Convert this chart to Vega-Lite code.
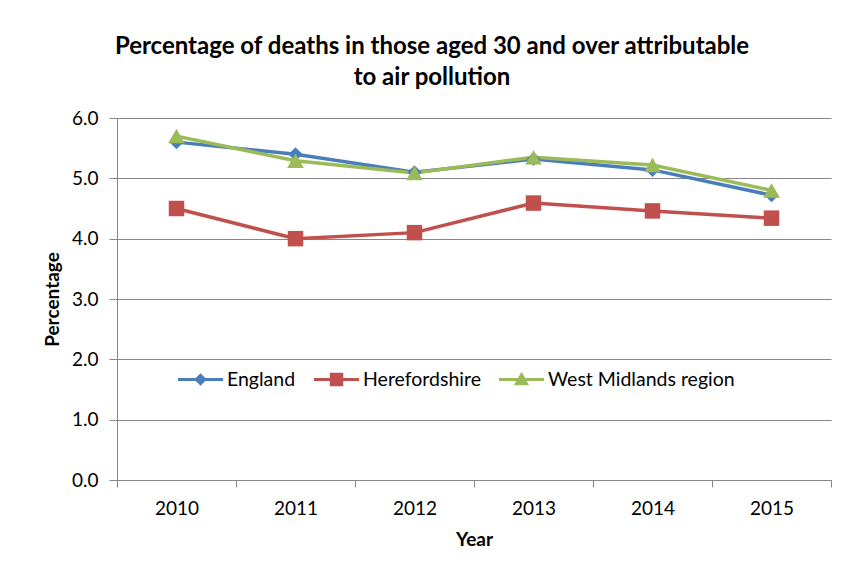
{
  "$schema": "https://vega.github.io/schema/vega-lite/v6.json",
  "width": 714,
  "height": 362,
  "autosize": {"type": "none"},
  "padding": {"left": 117, "top": 118, "right": 14, "bottom": 89},
  "background": "white",
  "config": {"font": "Lato", "view": {"stroke": null}},
  "title": {
    "text": ["Percentage of deaths in those aged 30 and over attributable", "to air pollution"],
    "fontSize": 24,
    "fontWeight": "bold",
    "font": "Lato",
    "color": "#000000",
    "anchor": "middle",
    "dx": -42,
    "lineHeight": 31,
    "offset": 19
  },
  "data": {
    "values": [
      {"year": "2010", "series": "England", "value": 5.6},
      {"year": "2011", "series": "England", "value": 5.4},
      {"year": "2012", "series": "England", "value": 5.1},
      {"year": "2013", "series": "England", "value": 5.32},
      {"year": "2014", "series": "England", "value": 5.14},
      {"year": "2015", "series": "England", "value": 4.72},
      {"year": "2010", "series": "Herefordshire", "value": 4.5},
      {"year": "2011", "series": "Herefordshire", "value": 4.0},
      {"year": "2012", "series": "Herefordshire", "value": 4.1},
      {"year": "2013", "series": "Herefordshire", "value": 4.59},
      {"year": "2014", "series": "Herefordshire", "value": 4.46},
      {"year": "2015", "series": "Herefordshire", "value": 4.34},
      {"year": "2010", "series": "West Midlands region", "value": 5.7},
      {"year": "2011", "series": "West Midlands region", "value": 5.29},
      {"year": "2012", "series": "West Midlands region", "value": 5.09},
      {"year": "2013", "series": "West Midlands region", "value": 5.35},
      {"year": "2014", "series": "West Midlands region", "value": 5.22},
      {"year": "2015", "series": "West Midlands region", "value": 4.8}
    ]
  },
  "encoding": {
    "x": {
      "field": "year",
      "type": "ordinal",
      "scale": {"type": "band", "paddingInner": 0, "paddingOuter": 0},
      "bandPosition": 0.5,
      "axis": {
        "title": "Year",
        "titleFontSize": 19,
        "titleFontWeight": "bold",
        "titleColor": "#000000",
        "titlePadding": 12,
        "labelAngle": 0,
        "labelFontSize": 19,
        "labelColor": "#000000",
        "labelPadding": 12,
        "tickBand": "extent",
        "tickSize": 7,
        "tickColor": "#868686",
        "domainColor": "#868686",
        "grid": false
      }
    },
    "y": {
      "field": "value",
      "type": "quantitative",
      "scale": {"domain": [0, 6]},
      "axis": {
        "title": "Percentage",
        "titleFontSize": 19,
        "titleFontWeight": "bold",
        "titleColor": "#000000",
        "titlePadding": 9,
        "values": [0, 1, 2, 3, 4, 5, 6],
        "format": ".1f",
        "labelFontSize": 19,
        "labelColor": "#000000",
        "labelPadding": 11,
        "tickSize": 8,
        "tickColor": "#868686",
        "domainColor": "#868686",
        "gridColor": "#868686",
        "gridOpacity": 1,
        "grid": true
      }
    },
    "color": {
      "field": "series",
      "type": "nominal",
      "scale": {
        "domain": ["England", "Herefordshire", "West Midlands region"],
        "range": ["#4A7EBB", "#C0504D", "#9BBB59"]
      },
      "legend": {
        "orient": "none",
        "legendX": 61,
        "legendY": 239,
        "direction": "horizontal",
        "title": null,
        "labelFontSize": 19.5,
        "labelColor": "#000000",
        "labelLimit": 0,
        "symbolSize": 2025,
        "symbolType": "M-1,-0.065L1,-0.065L1,0.065L-1,0.065Z",
        "labelOffset": 4,
        "columnPadding": 18,
        "encode": {
          "symbols": {
            "update": {
              "shape": {"signal": "datum.value === 'England' ? 'M-1,-0.07L1,-0.07L1,0.07L-1,0.07Z M0,-0.28L0.28,0L0,0.28L-0.28,0Z' : datum.value === 'Herefordshire' ? 'M-1,-0.07L1,-0.07L1,0.07L-1,0.07Z M-0.3,-0.3L0.3,-0.3L0.3,0.3L-0.3,0.3Z' : 'M-1,-0.07L1,-0.07L1,0.07L-1,0.07Z M0,-0.34L0.34,0.26L-0.34,0.26Z'"},
              "size": {"value": 2025},
              "fill": {"scale": "color", "field": "value"},
              "fillOpacity": {"value": 1},
              "opacity": {"value": 1},
              "strokeWidth": {"value": 0}
            }
          }
        }
      }
    }
  },
  "layer": [
    {"mark": {"type": "line", "strokeWidth": 3.5}},
    {
      "transform": [{"filter": "datum.series === 'England'"}],
      "mark": {"type": "point", "filled": true, "opacity": 1, "shape": "diamond", "size": 200}
    },
    {
      "transform": [{"filter": "datum.series === 'Herefordshire'"}],
      "mark": {"type": "point", "filled": true, "opacity": 1, "shape": "square", "size": 240}
    },
    {
      "transform": [{"filter": "datum.series === 'West Midlands region'"}],
      "mark": {"type": "point", "filled": true, "opacity": 1, "shape": "triangle-up", "size": 280}
    }
  ]
}
